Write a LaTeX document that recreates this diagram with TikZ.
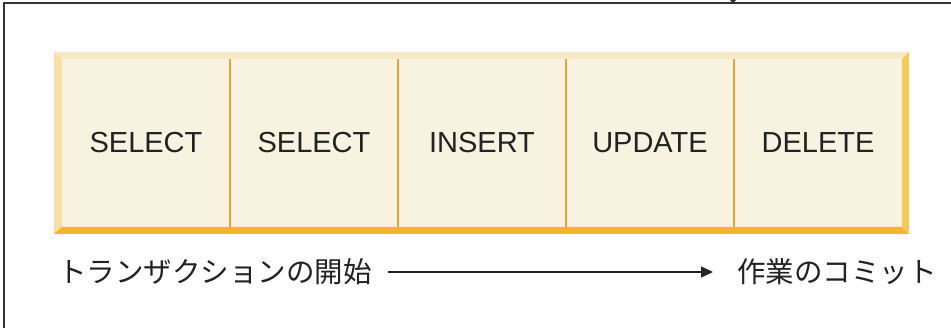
\documentclass[tikz,border=0pt]{standalone}
\usepackage{fontspec}
\setmainfont{Liberation Sans}
\newfontfamily\cjk{Noto Sans CJK JP}
\usetikzlibrary{arrows.meta}
\definecolor{face}{HTML}{F8F2E1}
\definecolor{bevtop}{HTML}{F5E9C8}
\definecolor{bevleft}{HTML}{F7E0A8}
\definecolor{bevbot}{HTML}{F5B32F}
\definecolor{bevright}{HTML}{F5C95C}
\definecolor{divider}{HTML}{F0A030}
\definecolor{ink}{HTML}{222222}
\definecolor{frame}{HTML}{333333}
\tikzset{
  cell/.style={minimum width=168pt, minimum height=168pt, inner sep=0pt, anchor=center,
    text=ink, font=\fontsize{29}{32}\selectfont},
  jlabel/.style={anchor=west, inner sep=0pt, text=ink, font=\cjk\fontsize{28.5}{32}\selectfont},
}
\begin{document}
\begin{tikzpicture}[x=1pt,y=-1pt]
\useasboundingbox (0,0) rectangle (951,328);
% frame
\draw[frame, line width=2pt] (4,328) -- (4,3) -- (951,3);
\fill[frame] (730,0) -- (736,0) -- (733,4) -- cycle;
% bevelled box
\fill[face] (54,52) rectangle (909,234);
\fill[bevtop] (54,52) -- (909,52) -- (902,59) -- (62,59) -- cycle;
\fill[bevleft] (54,52) -- (62,59) -- (62,227) -- (54,234) -- cycle;
\fill[bevbot] (54,234) -- (62,227) -- (902,227) -- (909,234) -- cycle;
\fill[bevright] (909,52) -- (909,234) -- (902,227) -- (902,59) -- cycle;
% cells
\node[cell] (c1) at (146,143) {SELECT};
\node[cell] (c2) at (314,143) {SELECT};
\node[cell] (c3) at (482,143) {INSERT};
\node[cell] (c4) at (650,143) {UPDATE};
\node[cell] (c5) at (818,143) {DELETE};
\foreach \x in {230,398,566,734}
  \draw[divider, line width=1.6pt] (\x,59) -- (\x,227);
% labels and arrow
\node[jlabel] (start) at (58,272) {トランザクションの開始};
\node[jlabel] (end) at (737,272) {作業のコミット};
\draw[ink, line width=1.4pt, -{Triangle[length=12pt,width=11pt]}, shorten <=16pt, shorten >=24pt]
  (start.east) -- (end.west);
\end{tikzpicture}
\end{document}
